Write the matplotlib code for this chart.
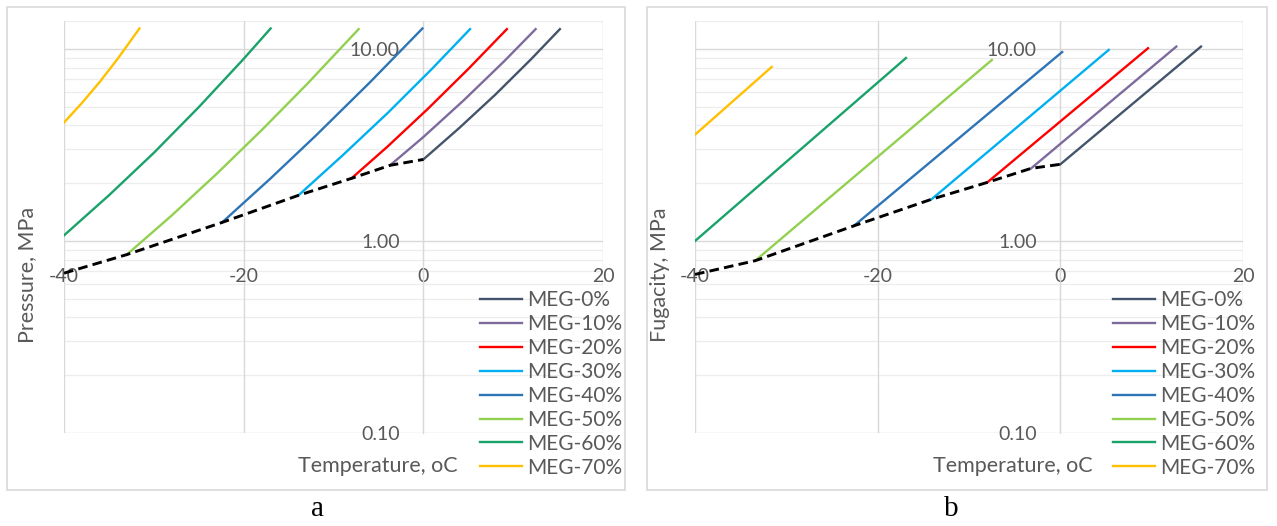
import matplotlib
matplotlib.use('Agg')
import matplotlib.pyplot as plt
from matplotlib.patches import Rectangle

plt.rcParams['font.family'] = ['Lato', 'DejaVu Sans']

W, H = 1277, 526

labels = ['MEG-0%', 'MEG-10%', 'MEG-20%', 'MEG-30%', 'MEG-40%', 'MEG-50%', 'MEG-60%', 'MEG-70%']
colors = ['#44546A', '#7E6B9E', '#FF0000', '#00B0F0', '#2E75B6', '#92D050', '#19A26A', '#FFC000']

# panel a: pressure, MPa
temp_a = [
    [0.0, 4.0, 8.0, 12.0, 15.2],
    [-3.7, 0.0, 4.5, 9.0, 12.5],
    [-8.0, -4.0, 0.5, 5.0, 9.3],
    [-13.9, -9.0, -4.0, 1.0, 5.2],
    [-22.4, -17.0, -12.0, -6.0, -0.1],
    [-33.0, -28.0, -23.0, -18.0, -13.0, -7.2],
    [-40.0, -35.0, -30.0, -25.0, -20.0, -17.0],
    [-40.0, -38.0, -36.0, -34.0, -31.6],
]
pres_a = [
    [2.66, 3.88, 5.78, 8.86, 12.7],
    [2.48, 3.48, 5.41, 8.64, 12.7],
    [2.12, 3.10, 4.88, 7.87, 12.7],
    [1.73, 2.79, 4.63, 7.92, 12.7],
    [1.25, 2.12, 3.53, 6.67, 12.8],
    [0.85, 1.36, 2.24, 3.78, 6.53, 12.7],
    [1.07, 1.73, 2.88, 4.98, 8.89, 12.8],
    [4.14, 5.24, 6.76, 8.93, 12.8],
]
dash_temp_a = [-40.0, -33.0, -22.4, -13.9, -8.0, -3.7, 0.0]
dash_pres_a = [0.68, 0.85, 1.25, 1.73, 2.12, 2.48, 2.66]

# panel b: fugacity, MPa
temp_b = [
    [0.0, 15.4],
    [-3.2, 12.7],
    [-8.0, 9.6],
    [-14.1, 5.3],
    [-22.6, 0.2],
    [-33.4, -7.5],
    [-40.0, -16.9],
    [-40.0, -31.6],
]
fug_b = [
    [2.51, 10.3],
    [2.39, 10.3],
    [2.02, 10.1],
    [1.65, 9.9],
    [1.20, 9.65],
    [0.79, 8.77],
    [1.00, 8.98],
    [3.58, 8.07],
]
dash_temp_b = [-40.0, -33.4, -22.6, -14.1, -8.0, -3.2, 0.0]
dash_fug_b = [0.67, 0.79, 1.20, 1.65, 2.02, 2.39, 2.51]

x_ticks = [-40, -20, 0, 20]
y_ticks = [0.1, 1, 10]
y_ticklabels = ['0.10', '1.00', '10.00']
y_minor = [k * d for d in (0.1, 1) for k in range(2, 10)]

txt_color = '#595959'


def fx(px):
    return px / W


def fy(py):
    return 1 - py / H


fig = plt.figure(figsize=(W / 100, H / 100), dpi=100)


def panel(left, right, temps, vals, dtemp, dval, ylabel, ylab_x, leg_x, frame, cap_x, cap):
    ax = fig.add_axes([fx(left), fy(433), fx(right) - fx(left), fy(21) - fy(433)])
    ax.set_yscale('log')
    ax.set_xlim(-40, 20)
    ax.set_ylim(0.1, 14)

    for v in y_minor:
        ax.axhline(v, color='#EDEDED', lw=0.9, zorder=0)
    ax.axhline(14, color='#EDEDED', lw=0.9, zorder=0)
    for v in y_ticks:
        ax.axhline(v, color='#D9D9D9', lw=1.0, zorder=0)
    for v in x_ticks:
        ax.axvline(v, color='#D9D9D9', lw=1.0, zorder=0)

    handles = []
    for t, p, c, lab in zip(temps, vals, colors, labels):
        ln, = ax.plot(t, p, color=c, lw=1.7, label=lab, zorder=3)
        handles.append(ln)
    ax.plot(dtemp, dval, color='black', lw=2.1, linestyle=(0, (3.3, 1.8)), zorder=4)

    for s in ['top', 'right']:
        ax.spines[s].set_visible(False)
    ax.spines['left'].set_position(('data', 0))
    ax.spines['left'].set_color('#D9D9D9')
    ax.spines['bottom'].set_position(('data', 0.76))
    ax.spines['bottom'].set_color('none')

    ax.set_xticks(x_ticks)
    ax.set_xticklabels([str(v) for v in x_ticks])
    ax.set_yticks(y_ticks)
    ax.set_yticklabels(y_ticklabels)
    ax.set_yticks([], minor=True)
    ax.tick_params(axis='x', length=0, pad=3, labelsize=14, labelcolor=txt_color)
    ax.tick_params(axis='y', length=0, pad=17, labelsize=14, labelcolor=txt_color)
    ax.set_facecolor('none')

    fig.text(fx((left + right) / 2 + 44), fy(466), 'Temperature, oC', ha='center', va='center',
             fontsize=15.5, color=txt_color)
    fig.text(fx(ylab_x), fy(275), ylabel, ha='center', va='center', rotation=90,
             fontsize=15.5, color=txt_color)

    fig.legend(handles=handles, labels=labels, loc='upper left',
               bbox_to_anchor=(fx(leg_x), fy(290)), frameon=False, fontsize=15,
               labelcolor=txt_color, handlelength=2.0, handletextpad=0.25,
               labelspacing=0.19, borderpad=0, borderaxespad=0)

    fig.patches.append(Rectangle((fx(frame[0]), fy(frame[3])), fx(frame[2]) - fx(frame[0]),
                                 fy(frame[1]) - fy(frame[3]), transform=fig.transFigure,
                                 fill=False, edgecolor='#D9D9D9', lw=1.2))
    fig.text(fx(cap_x), fy(509), cap, ha='center', va='center', fontsize=21,
             family=['Liberation Serif', 'DejaVu Serif'])
    return ax


panel(64, 603, temp_a, pres_a, dash_temp_a, dash_pres_a, 'Pressure, MPa', 27, 480,
      (7, 7, 625, 490), 318, 'a')
panel(695, 1243, temp_b, fug_b, dash_temp_b, dash_fug_b, 'Fugacity, MPa', 660, 1113,
      (647, 7, 1267, 490), 951, 'b')

fig.savefig('out.png', dpi=100)
